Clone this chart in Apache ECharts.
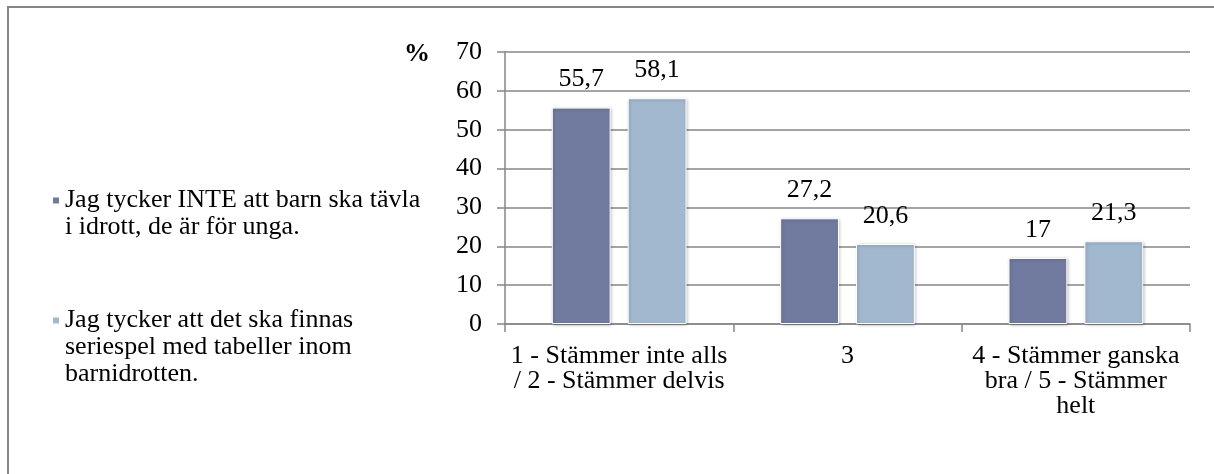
<!DOCTYPE html>
<html>
<head>
<meta charset="utf-8">
<script src="https://cdn.jsdelivr.net/npm/echarts@6/dist/echarts.min.js"></script>
<style>
  html, body { margin: 0; padding: 0; background: #fff; }
  #chart { width: 1214px; height: 474px; }
</style>
</head>
<body>
<div id="chart"></div>
<script>
// Survey answers, percent of respondents per answer group
const categories = [
  '1 - Stämmer inte alls\n/ 2 - Stämmer delvis',
  '3',
  '4 - Stämmer ganska\nbra / 5 - Stämmer\nhelt'
];
const seriesNames = [
  'Jag tycker INTE att barn ska tävla\ni idrott, de är för unga.',
  'Jag tycker att det ska finnas\nseriespel med tabeller inom\nbarnidrotten.'
];
const notCompete = [55.7, 27.2, 17];
const leagueTables = [58.1, 20.6, 21.3];

const serif = '"Liberation Serif", "Times New Roman", serif';
const gray = '#868686';
const legendLine = 27;

const chart = echarts.init(document.getElementById('chart'));

function barSeries(name, data, color) {
  return {
    name: name,
    type: 'bar',
    data: data,
    barCategoryGap: '41%',
    barGap: '29%',
    itemStyle: {
      color: color,
      borderColor: '#ffffff',
      borderWidth: 1,
      shadowColor: 'rgba(0,0,0,0.25)',
      shadowBlur: 3,
      shadowOffsetX: 1,
      shadowOffsetY: 1
    },
    label: {
      show: true,
      position: 'top',
      distance: 15,
      fontFamily: serif,
      fontSize: 26,
      color: '#000',
      formatter: p => String(p.value).replace('.', ',')
    }
  };
}

chart.setOption({
  animation: false,
  backgroundColor: '#fff',
  graphic: [
    {
      type: 'rect',
      shape: { x: 8, y: 7, width: 1230, height: 500 },
      style: { fill: 'none', stroke: gray, lineWidth: 2 },
      silent: true
    },
    {
      type: 'text',
      left: 404,
      top: 41,
      style: { text: '%', font: 'bold 26px ' + serif, fill: '#000' }
    }
  ],
  legend: {
    orient: 'vertical',
    left: 51,
    top: 160,
    padding: 0,
    itemWidth: 8,
    itemHeight: 8,
    itemGap: 12,
    icon: 'rect',
    align: 'left',
    // blank lines on top keep each marker level with the first text line
    formatter: name => '\n'.repeat(name.split('\n').length - 1) + name,
    textStyle: { fontFamily: serif, fontSize: 26, lineHeight: legendLine, color: '#000' },
    data: seriesNames
  },
  grid: { left: 505, right: 24, top: 52, bottom: 150, containLabel: false },
  xAxis: {
    type: 'category',
    data: categories,
    axisLine: { lineStyle: { color: gray, width: 1.5 } },
    axisTick: { show: true, length: 8, lineStyle: { color: gray, width: 1.5 } },
    axisLabel: {
      interval: 0,
      margin: 20,
      fontFamily: serif,
      fontSize: 26,
      lineHeight: 25,
      color: '#000',
      align: 'center'
    }
  },
  yAxis: {
    type: 'value',
    min: 0,
    max: 70,
    interval: 10,
    axisLine: { show: true, lineStyle: { color: gray, width: 1.5 } },
    axisTick: { show: true, length: 8, lineStyle: { color: gray, width: 1.5 } },
    splitLine: { lineStyle: { color: gray, width: 1.5 } },
    axisLabel: { margin: 23, fontFamily: serif, fontSize: 26, color: '#000' }
  },
  series: [
    barSeries(seriesNames[0], notCompete, '#717BA0'),
    barSeries(seriesNames[1], leagueTables, '#A1B8CF')
  ]
});
</script>
</body>
</html>
